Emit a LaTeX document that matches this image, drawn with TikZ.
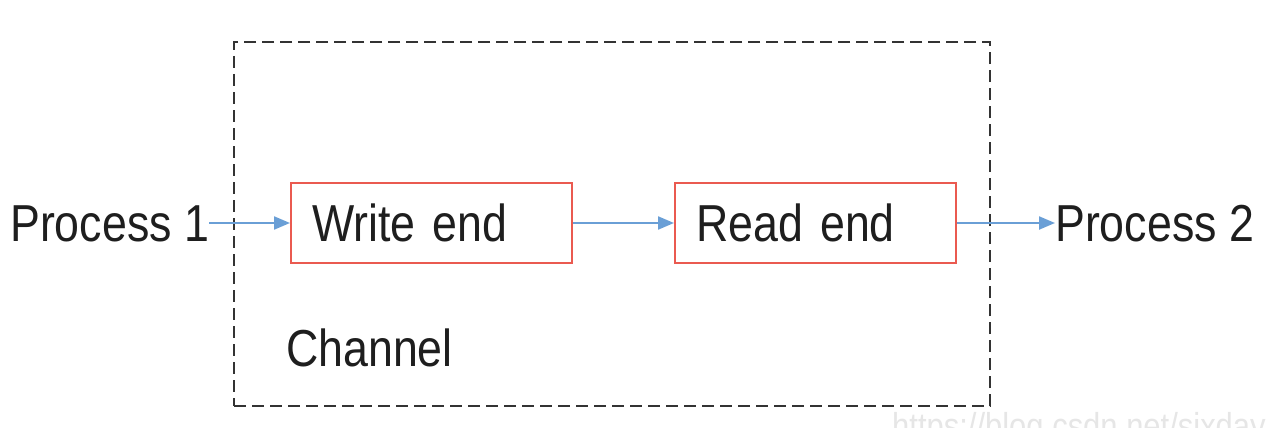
\documentclass[tikz,border=0pt]{standalone}
\usepackage{fontspec}
\setmainfont{Liberation Sans}[FakeStretch=0.86]
\usetikzlibrary{arrows.meta}
\definecolor{boxred}{HTML}{EA5A50}
\definecolor{arrowblue}{HTML}{6A9FD6}
\definecolor{dashgray}{HTML}{333333}
\definecolor{txt}{HTML}{1E1E1E}
\definecolor{wmark}{HTML}{E6E6E6}
\begin{document}
\begin{tikzpicture}[x=1pt,y=-1pt,
  lbl/.style={font=\fontsize{52}{60}\selectfont, text=txt, inner sep=0pt},
  endbox/.style={lbl, draw=boxred, line width=2pt, minimum width=281pt, minimum height=80pt,
     text width=239pt, inner xsep=21pt, align=left, anchor=north west},
  channelbox/.style={draw=dashgray, line width=2pt, dash pattern=on 12pt off 6pt},
  flow/.style={draw=arrowblue, line width=2.2pt, -{Triangle[length=16pt,width=13pt]}}]
\useasboundingbox (0,0) rectangle (1268,428);
\fill[white] (0,0) rectangle (1268,428);
% channel
\node[channelbox, minimum width=756pt, minimum height=364pt, anchor=north west, inner sep=0pt] (ch) at (233,41) {};
\node[lbl, anchor=base west] (chl) at (286,366) {Channel};
% ends
\node[endbox] (we) at (290,182) {Write end};
\node[endbox] (re) at (674,182) {Read end};
% processes
\node[lbl, anchor=base west] (p1) at (10,241) {Process 1};
\node[lbl, anchor=base west] (p2) at (1055,241) {Process 2};
% arrows
\draw[flow] (p1.east |- we.west) -- (we.west);
\draw[flow] (we.east) -- (re.west);
\draw[flow] (re.east) -- (p2.west |- re.east);
% watermark (cut off at the bottom edge, as in the reference)
\begin{scope}
\clip (0,0) rectangle (1268,428);
\node[font=\fontsize{36}{40}\selectfont, text=wmark, anchor=base west, inner sep=0pt] (wm) at (892,438) {https://blog.csdn.net/sixday};
\end{scope}
\end{tikzpicture}
\end{document}
